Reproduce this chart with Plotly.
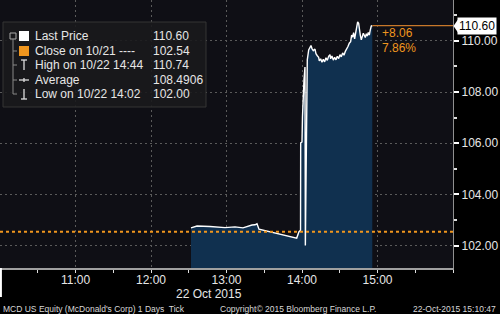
import plotly.graph_objects as go

DAY = "2015-10-22 "
times = [
    "12:31:47", "12:36:33", "12:46:53", "12:58:48", "13:06:45", "13:13:06",
    "13:20:15", "13:22:38", "13:24:14", "13:25:49", "13:55:47", "13:57:36",
    "13:58:50", "13:58:57", "13:59:59", "14:00:23", "14:01:35", "14:02:22",
    "14:02:40", "14:03:39", "14:04:12", "14:05:19", "14:07:08", "14:07:56",
    "14:08:59", "14:10:19", "14:11:06", "14:12:10", "14:13:14", "14:13:45",
    "14:14:49", "14:15:52", "14:16:56", "14:18:00", "14:19:03", "14:20:07",
    "14:21:10", "14:22:14", "14:22:46", "14:23:49", "14:24:53", "14:25:56",
    "14:27:00", "14:28:03", "14:29:07", "14:30:11", "14:31:14", "14:32:18",
    "14:33:21", "14:34:25", "14:35:28", "14:36:32", "14:37:35", "14:38:39",
    "14:39:27", "14:40:14", "14:41:02", "14:41:50", "14:42:37", "14:43:25",
    "14:44:13", "14:45:00", "14:45:32", "14:46:20", "14:47:07", "14:47:55",
    "14:48:43", "14:49:30", "14:50:18", "14:51:06", "14:51:53", "14:52:41",
    "14:53:29", "14:54:16", "14:55:04", "14:55:52",
]
prices = [
    102.69, 102.76, 102.74, 102.70, 102.73, 102.69,
    102.80, 102.81, 102.85, 102.64, 102.29, 102.54,
    102.60, 106.01, 106.05, 107.03, 108.47, 108.98,
    102.00, 109.00, 109.26, 109.65, 109.82, 109.70,
    109.62, 109.68, 109.50, 109.42, 109.36, 109.22,
    109.30, 109.17, 109.28, 109.18, 109.34, 109.24,
    109.40, 109.46, 109.30, 109.41, 109.25, 109.36,
    109.26, 109.40, 109.31, 109.46, 109.38, 109.53,
    109.44, 109.59, 109.66, 109.78, 109.91, 109.97,
    110.23, 110.15, 110.32, 110.08, 110.30, 110.49,
    110.74, 110.69, 110.43, 110.23, 110.04, 110.17,
    110.30, 110.22, 110.13, 110.28, 110.19, 110.33,
    110.23, 110.43, 110.58, 110.60,
]
prev_close = 102.54
last_price = 110.60
high_price = 110.74
avg_price = 108.4906
low_price = 102.00
change = 8.06
change_pct = 7.86
y_ticks = [102, 104, 106, 108, 110]
x_ticks = ["11:00", "12:00", "13:00", "14:00", "15:00"]

legend_rows = [
    ("Last Price", f"{last_price:.2f}"),
    ("Close on 10/21 ----", f"{prev_close:.2f}"),
    ("High on 10/22 14:44", f"{high_price:.2f}"),
    ("Average", f"{avg_price:.4f}"),
    ("Low on 10/22 14:02", f"{low_price:.2f}"),
]

W, H = 500, 314
PL, PR, PT, PB = 0, 47, 0, 46
PW, PH = W - PL - PR, H - PT - PB
FONT = "Liberation Sans, Arial, sans-serif"
ORANGE = "#f0961e"
TXT = "#e6e6e6"


def px(x):
    return (x - PL) / PW


def py(y):
    return 1 - (y - PT) / PH


xs = [DAY + t for t in times]

fig = go.Figure()
fig.add_trace(go.Scatter(
    x=xs, y=prices, mode="lines",
    line=dict(color="white", width=1.4),
    fill="tozeroy", fillcolor="#10304f",
    hoverinfo="skip", showlegend=False,
))

shapes = []
annos = []

# previous close dotted line
shapes.append(dict(type="line", xref="paper", yref="y", x0=0, x1=1,
                   y0=prev_close, y1=prev_close,
                   line=dict(color=ORANGE, width=2, dash="dot"), layer="above"))
# last price line from last point to right edge
shapes.append(dict(type="line", xref="x", yref="y", x0=xs[-1], x1=DAY + "16:00",
                   y0=last_price, y1=last_price,
                   line=dict(color="#c8782a", width=1.2)))

# last price tag
ty = py(26)
shapes.append(dict(type="path", xref="paper", yref="paper",
                   path=f"M {px(453.5)},{ty} L {px(458)},{py(19.5)} L {px(458)},{py(32.5)} Z",
                   fillcolor="white", line=dict(width=0)))
annos.append(dict(xref="paper", yref="paper", x=px(457), y=ty, xanchor="left",
                  yanchor="middle", text=f"{last_price:.2f}", showarrow=False,
                  bgcolor="white", borderpad=1,
                  font=dict(family=FONT, size=12, color="black")))
annos.append(dict(xref="paper", yref="paper", x=px(380), y=py(33), xanchor="left",
                  yanchor="middle", text=f"+{change:.2f}", showarrow=False,
                  font=dict(family=FONT, size=12, color=ORANGE)))
annos.append(dict(xref="paper", yref="paper", x=px(380), y=py(48), xanchor="left",
                  yanchor="middle", text=f"{change_pct:.2f}%", showarrow=False,
                  font=dict(family=FONT, size=12, color=ORANGE)))

# legend box
shapes.append(dict(type="rect", xref="paper", yref="paper",
                   x0=px(3), x1=px(206), y0=py(107), y1=py(22),
                   fillcolor="rgba(26,26,28,0.9)", line=dict(color="#353535", width=1)))
row_y = [36, 51, 65, 80, 94]
# tree lines
shapes.append(dict(type="rect", xref="paper", yref="paper",
                   x0=px(10), x1=px(16), y0=py(39), y1=py(33),
                   line=dict(color="#aaa", width=1)))
shapes.append(dict(type="line", xref="paper", yref="paper",
                   x0=px(13), x1=px(13), y0=py(39), y1=py(row_y[-1]),
                   line=dict(color="#888", width=1)))
for ry in row_y[1:]:
    shapes.append(dict(type="line", xref="paper", yref="paper",
                       x0=px(13), x1=px(17), y0=py(ry), y1=py(ry),
                       line=dict(color="#888", width=1)))
# row icons
shapes.append(dict(type="rect", xref="paper", yref="paper",
                   x0=px(19), x1=px(29), y0=py(41), y1=py(31),
                   fillcolor="white", line=dict(width=0)))
shapes.append(dict(type="rect", xref="paper", yref="paper",
                   x0=px(19), x1=px(29), y0=py(56), y1=py(46),
                   fillcolor=ORANGE, line=dict(width=0)))
ic = dict(color="#ddd", width=1.3)
shapes += [
    dict(type="line", xref="paper", yref="paper", x0=px(24), x1=px(24), y0=py(60), y1=py(70), line=ic),
    dict(type="line", xref="paper", yref="paper", x0=px(21), x1=px(27), y0=py(60), y1=py(60), line=ic),
    dict(type="line", xref="paper", yref="paper", x0=px(19), x1=px(29), y0=py(80), y1=py(80), line=ic),
    dict(type="line", xref="paper", yref="paper", x0=px(24), x1=px(24), y0=py(78), y1=py(82), line=ic),
    dict(type="line", xref="paper", yref="paper", x0=px(24), x1=px(24), y0=py(89), y1=py(99), line=ic),
    dict(type="line", xref="paper", yref="paper", x0=px(21), x1=px(27), y0=py(99), y1=py(99), line=ic),
]
for (lab, val), ry in zip(legend_rows, row_y):
    annos.append(dict(xref="paper", yref="paper", x=px(33), y=py(ry), xanchor="left",
                      yanchor="middle", text=lab, showarrow=False,
                      font=dict(family=FONT, size=12, color=TXT)))
    annos.append(dict(xref="paper", yref="paper", x=px(151), y=py(ry), xanchor="left",
                      yanchor="middle", text=val, showarrow=False,
                      font=dict(family=FONT, size=12, color=TXT)))

# left white stub below axis
shapes.append(dict(type="line", xref="paper", yref="paper", x0=0.002, x1=0.002,
                   y0=0, y1=py(297), line=dict(color="white", width=2)))

# date and footer
annos.append(dict(xref="paper", yref="paper", x=px(209), y=py(293.5), xanchor="center",
                  yanchor="middle", text="22 Oct 2015", showarrow=False,
                  font=dict(family=FONT, size=12, color=TXT)))
foot = dict(family=FONT, size=8.5, color="#d8d8d8")
annos.append(dict(xref="paper", yref="paper", x=px(1), y=py(308.5), xanchor="left",
                  yanchor="middle", text="MCD US Equity (McDonald's Corp) 1 Days  Tick",
                  showarrow=False, font=foot))
annos.append(dict(xref="paper", yref="paper", x=px(218), y=py(308.5), xanchor="left",
                  yanchor="middle", text="Copyright\u00a9 2015 Bloomberg Finance L.P.",
                  showarrow=False, font=foot))
annos.append(dict(xref="paper", yref="paper", x=px(498), y=py(308.5), xanchor="right",
                  yanchor="middle", text="22-Oct-2015 15:10:47",
                  showarrow=False, font=foot))

fig.update_layout(
    width=W, height=H,
    margin=dict(l=PL, r=PR, t=PT, b=PB, pad=0),
    paper_bgcolor="#000000", plot_bgcolor="#0f0f15",
    showlegend=False,
    shapes=shapes, annotations=annos,
    xaxis=dict(
        range=[DAY + "10:00", DAY + "16:00"], type="date",
        tickvals=[DAY + t for t in x_ticks], ticktext=x_ticks,
        showgrid=True, gridcolor="#5a5a5a", gridwidth=1, griddash="2px,3px",
        showline=True, linecolor="#a0a0a0", linewidth=1.5,
        ticks="", zeroline=False,
        tickfont=dict(family=FONT, size=12, color=TXT),
        minor=dict(dtick=1800000, tick0=DAY + "10:30", ticks="outside", ticklen=3,
                   tickcolor="#dddddd", showgrid=False),
        fixedrange=True,
    ),
    yaxis=dict(
        range=[101.12, 111.60], side="right",
        tickvals=y_ticks, ticktext=[f"{v:.2f}" for v in y_ticks],
        showgrid=True, gridcolor="#5a5a5a", gridwidth=1, griddash="2px,3px",
        showline=True, linecolor="#909090", linewidth=1.2,
        ticks="outside", ticklen=5, tickwidth=2, tickcolor="white",
        zeroline=False,
        tickfont=dict(family=FONT, size=12, color=TXT),
        minor=dict(dtick=1, tick0=101, ticks="outside", ticklen=3,
                   tickcolor="#dddddd", showgrid=False),
        fixedrange=True,
    ),
)

fig.write_html("out.html")
